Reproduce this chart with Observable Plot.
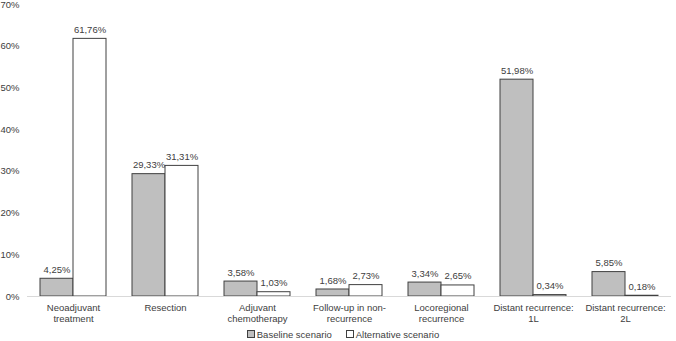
<!DOCTYPE html>
<html>
<head>
<meta charset="utf-8">
<script src="https://cdn.jsdelivr.net/npm/d3@7"></script>
<script src="https://cdn.jsdelivr.net/npm/@observablehq/plot@0.6"></script>
<style>
  body { margin: 0; background: #fff; font-family: "Liberation Sans", Arial, sans-serif; }
  #legend { width: 676px; height: 14px; display: flex; justify-content: center; align-items: center;
            gap: 14px; padding-left: 10px; box-sizing: border-box; font-size: 9.5px; color: #404040; }
  #legend span.item { display: flex; align-items: center; gap: 2px; }
  #legend i { display: inline-block; width: 6px; height: 6px; border: 1px solid #404040; }
</style>
</head>
<body>
<div id="chart"></div>
<div id="legend"></div>
<script>
const categories = [
  "Neoadjuvant\ntreatment",
  "Resection",
  "Adjuvant\nchemotherapy",
  "Follow-up in non-\nrecurrence",
  "Locoregional\nrecurrence",
  "Distant recurrence:\n1L",
  "Distant recurrence:\n2L"
];
const scenarios = ["Baseline scenario", "Alternative scenario"];
const baseline = [4.25, 29.33, 3.58, 1.68, 3.34, 51.98, 5.85];
const alternative = [61.76, 31.31, 1.03, 2.73, 2.65, 0.34, 0.18];
const yTicks = [0, 10, 20, 30, 40, 50, 60, 70];
const fills = {"Baseline scenario": "#bfbfbf", "Alternative scenario": "#ffffff"};

const rows = categories.flatMap((c, i) => [
  {category: c, scenario: scenarios[0], value: baseline[i]},
  {category: c, scenario: scenarios[1], value: alternative[i]}
]);

const pct = v => v.toFixed(2).replace(".", ",") + "%";

const chart = Plot.plot({
  width: 676,
  height: 327,
  marginTop: 4,
  marginBottom: 31,
  marginLeft: 27,
  marginRight: 5,
  style: {fontFamily: "'Liberation Sans', Arial, sans-serif", fontSize: "9.5px", color: "#404040"},
  fx: {domain: categories, padding: 0, label: null},
  x: {domain: scenarios, paddingInner: 0, paddingOuter: 0.353, axis: null},
  y: {domain: [0, 70], label: null},
  marks: [
    Plot.axisY({ticks: yTicks, tickFormat: d => d + "%", tickSize: 0, tickPadding: 8, fontSize: "9.5px"}),
    Plot.axisFx({anchor: "bottom", tickSize: 0, tickPadding: 7, lineHeight: 1.15, fontSize: "9.5px", label: null}),
    Plot.barY(rows, {
      fx: "category", x: "scenario", y: "value",
      fill: d => fills[d.scenario], stroke: "#404040", strokeWidth: 1
    }),
    Plot.ruleY([0], {stroke: "#d9d9d9"}),
    Plot.text(rows, {
      fx: "category", x: "scenario", y: "value",
      text: d => pct(d.value), dy: -9, fill: "#404040", fontSize: 9.5
    })
  ]
});
document.getElementById("chart").appendChild(chart);

const legend = document.getElementById("legend");
for (const s of scenarios) {
  const item = document.createElement("span");
  item.className = "item";
  const sw = document.createElement("i");
  sw.style.background = fills[s];
  item.appendChild(sw);
  item.appendChild(document.createTextNode(s));
  legend.appendChild(item);
}
</script>
</body>
</html>
